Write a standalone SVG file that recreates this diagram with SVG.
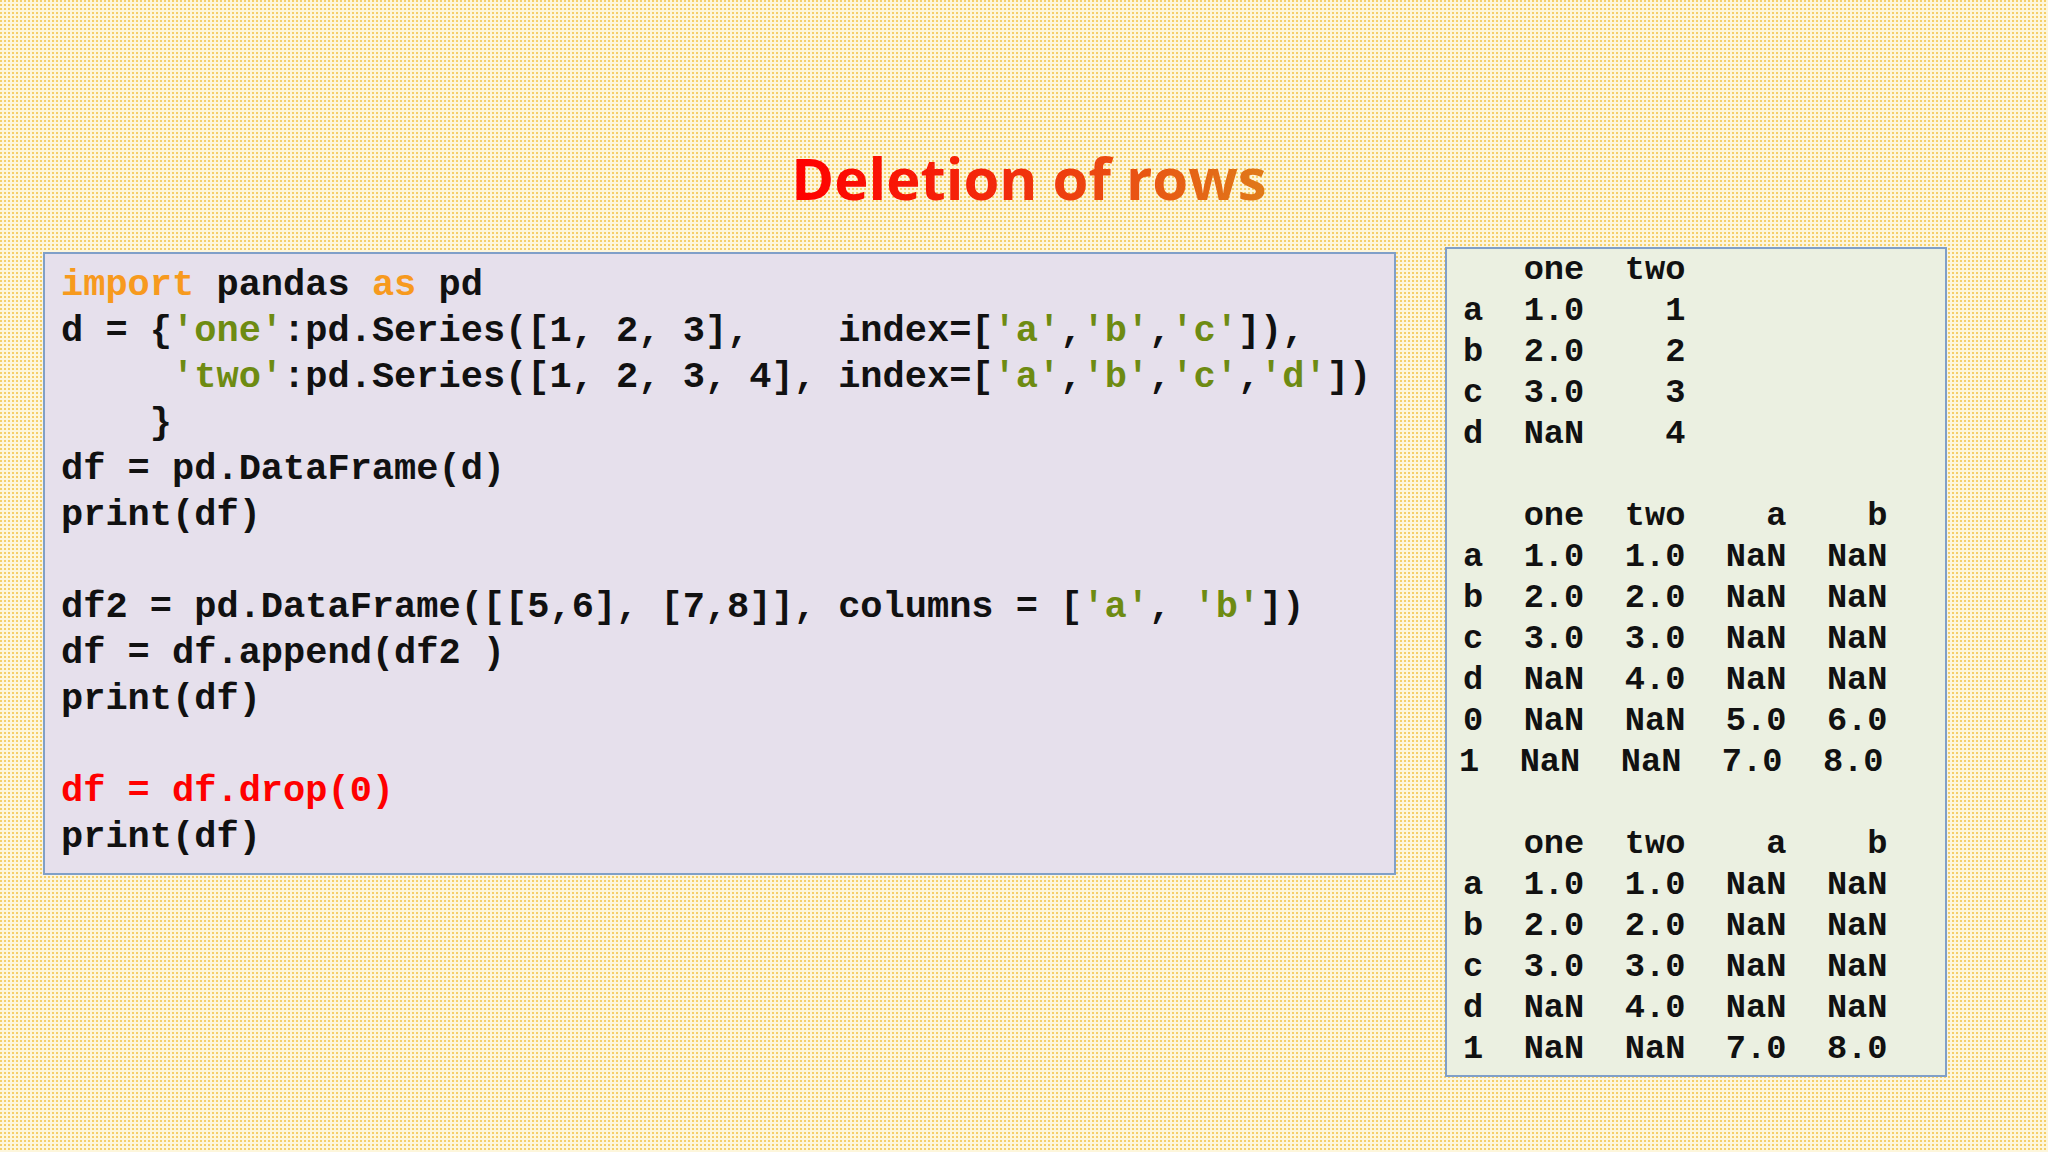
<svg xmlns="http://www.w3.org/2000/svg" width="2048" height="1152" viewBox="0 0 2048 1152">
<defs>
<pattern id="dots" width="4" height="4" patternUnits="userSpaceOnUse">
<rect width="4" height="4" fill="#fdf6dc"/>
<rect x="0" y="0" width="2" height="2" fill="#f5cf6a"/>
</pattern>
<linearGradient id="tg" x1="0" y1="0" x2="1" y2="0">
<stop offset="0" stop-color="#ff0000"/>
<stop offset="0.45" stop-color="#f22c0c"/>
<stop offset="1" stop-color="#e07a1a"/>
</linearGradient>
</defs>
<style>
.code{font-family:"Liberation Mono","Courier New",monospace;font-weight:bold;font-size:37px;fill:#111;white-space:pre}
.out{font-family:"Liberation Mono","Courier New",monospace;font-weight:bold;font-size:33.7px;fill:#111;white-space:pre}
.kw{fill:#f79a1e}
.st{fill:#6e8b12}
.rd{fill:#ff0000}
</style>
<rect width="2048" height="1152" fill="url(#dots)"/>
<g id="title">
<text x="1029" y="200" text-anchor="middle" font-family="'Open Sans','Liberation Sans',sans-serif" font-weight="bold" font-size="58" fill="url(#tg)">Deletion of rows</text>
</g>
<g id="code">
<rect x="44" y="253" width="1351" height="621" fill="#e6e0ec" stroke="#7f9fc8" stroke-width="2"/>
<text class="code" xml:space="preserve" x="61" y="295"><tspan class="kw">import</tspan> pandas <tspan class="kw">as</tspan> pd</text>
<text class="code" xml:space="preserve" x="61" y="341">d = {<tspan class="st">'one'</tspan>:pd.Series([1, 2, 3],    index=[<tspan class="st">'a'</tspan>,<tspan class="st">'b'</tspan>,<tspan class="st">'c'</tspan>]),</text>
<text class="code" xml:space="preserve" x="61" y="387">     <tspan class="st">'two'</tspan>:pd.Series([1, 2, 3, 4], index=[<tspan class="st">'a'</tspan>,<tspan class="st">'b'</tspan>,<tspan class="st">'c'</tspan>,<tspan class="st">'d'</tspan>])</text>
<text class="code" xml:space="preserve" x="61" y="433">    }</text>
<text class="code" xml:space="preserve" x="61" y="479">df = pd.DataFrame(d)</text>
<text class="code" xml:space="preserve" x="61" y="525">print(df)</text>
<text class="code" xml:space="preserve" x="61" y="617">df2 = pd.DataFrame([[5,6], [7,8]], columns = [<tspan class="st">'a'</tspan>, <tspan class="st">'b'</tspan>])</text>
<text class="code" xml:space="preserve" x="61" y="663">df = df.append(df2 )</text>
<text class="code" xml:space="preserve" x="61" y="709">print(df)</text>
<text class="code rd" xml:space="preserve" x="61" y="801">df = df.drop(0)</text>
<text class="code" xml:space="preserve" x="61" y="847">print(df)</text>
</g>
<g id="output">
<rect x="1446" y="248" width="500" height="828" fill="#ebf0e1" stroke="#7f9fc8" stroke-width="2"/>
<text class="out" xml:space="preserve" x="1463" y="279">   one  two</text>
<text class="out" xml:space="preserve" x="1463" y="320">a  1.0    1</text>
<text class="out" xml:space="preserve" x="1463" y="361">b  2.0    2</text>
<text class="out" xml:space="preserve" x="1463" y="402">c  3.0    3</text>
<text class="out" xml:space="preserve" x="1463" y="443">d  NaN    4</text>
<text class="out" xml:space="preserve" x="1463" y="525">   one  two    a    b</text>
<text class="out" xml:space="preserve" x="1463" y="566">a  1.0  1.0  NaN  NaN</text>
<text class="out" xml:space="preserve" x="1463" y="607">b  2.0  2.0  NaN  NaN</text>
<text class="out" xml:space="preserve" x="1463" y="648">c  3.0  3.0  NaN  NaN</text>
<text class="out" xml:space="preserve" x="1463" y="689">d  NaN  4.0  NaN  NaN</text>
<text class="out" xml:space="preserve" x="1463" y="730">0  NaN  NaN  5.0  6.0</text>
<text class="out" xml:space="preserve" x="1459" y="771">1  NaN  NaN  7.0  8.0</text>
<text class="out" xml:space="preserve" x="1463" y="853">   one  two    a    b</text>
<text class="out" xml:space="preserve" x="1463" y="894">a  1.0  1.0  NaN  NaN</text>
<text class="out" xml:space="preserve" x="1463" y="935">b  2.0  2.0  NaN  NaN</text>
<text class="out" xml:space="preserve" x="1463" y="976">c  3.0  3.0  NaN  NaN</text>
<text class="out" xml:space="preserve" x="1463" y="1017">d  NaN  4.0  NaN  NaN</text>
<text class="out" xml:space="preserve" x="1463" y="1058">1  NaN  NaN  7.0  8.0</text>
</g>
</svg>
